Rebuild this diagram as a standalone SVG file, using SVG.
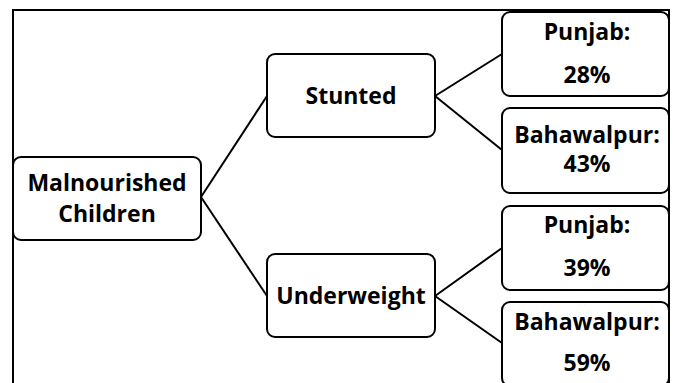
<svg xmlns="http://www.w3.org/2000/svg" width="676" height="383" viewBox="0 0 676 383">
<style>
.box{fill:#fff;stroke:#000;stroke-width:2}
.t{font-family:"Open Sans","DejaVu Sans",sans-serif;font-weight:bold;font-size:23px;fill:#000;text-anchor:middle}
.c{stroke:#000;stroke-width:2;fill:none}
</style>
<rect width="676" height="383" fill="#fff"/>
<path d="M13,390 V10 H669 V390" fill="none" stroke="#000" stroke-width="2"/>
<g id="connectors">
<line class="c" x1="201" y1="197" x2="267" y2="96"/>
<line class="c" x1="201" y1="197" x2="267" y2="296"/>
<line class="c" x1="435" y1="96" x2="502" y2="54"/>
<line class="c" x1="435" y1="96" x2="502" y2="150"/>
<line class="c" x1="435" y1="296" x2="502" y2="248"/>
<line class="c" x1="435" y1="296" x2="502" y2="343"/>
</g>
<g id="malnourished">
<rect class="box" x="13" y="157" width="188" height="83" rx="8"/>
<text class="t" x="107" y="191">Malnourished</text>
<text class="t" x="107" y="222">Children</text>
</g>
<g id="stunted">
<rect class="box" x="267" y="54" width="168" height="83" rx="8"/>
<text class="t" x="351" y="104">Stunted</text>
</g>
<g id="underweight">
<rect class="box" x="267" y="254" width="168" height="83" rx="8"/>
<text class="t" x="351" y="304">Underweight</text>
</g>
<g id="punjab1">
<rect class="box" x="502" y="12" width="167" height="84" rx="8"/>
<text class="t" x="587" y="40">Punjab:</text>
<text class="t" x="587" y="83">28%</text>
</g>
<g id="bahawalpur1">
<rect class="box" x="502" y="108" width="167" height="85" rx="8"/>
<text class="t" x="587" y="143">Bahawalpur:</text>
<text class="t" x="587" y="172">43%</text>
</g>
<g id="punjab2">
<rect class="box" x="502" y="206" width="167" height="84" rx="8"/>
<text class="t" x="587" y="233">Punjab:</text>
<text class="t" x="587" y="276">39%</text>
</g>
<g id="bahawalpur2">
<rect class="box" x="502" y="302" width="167" height="84" rx="8"/>
<text class="t" x="587" y="330">Bahawalpur:</text>
<text class="t" x="587" y="371">59%</text>
</g>
</svg>
